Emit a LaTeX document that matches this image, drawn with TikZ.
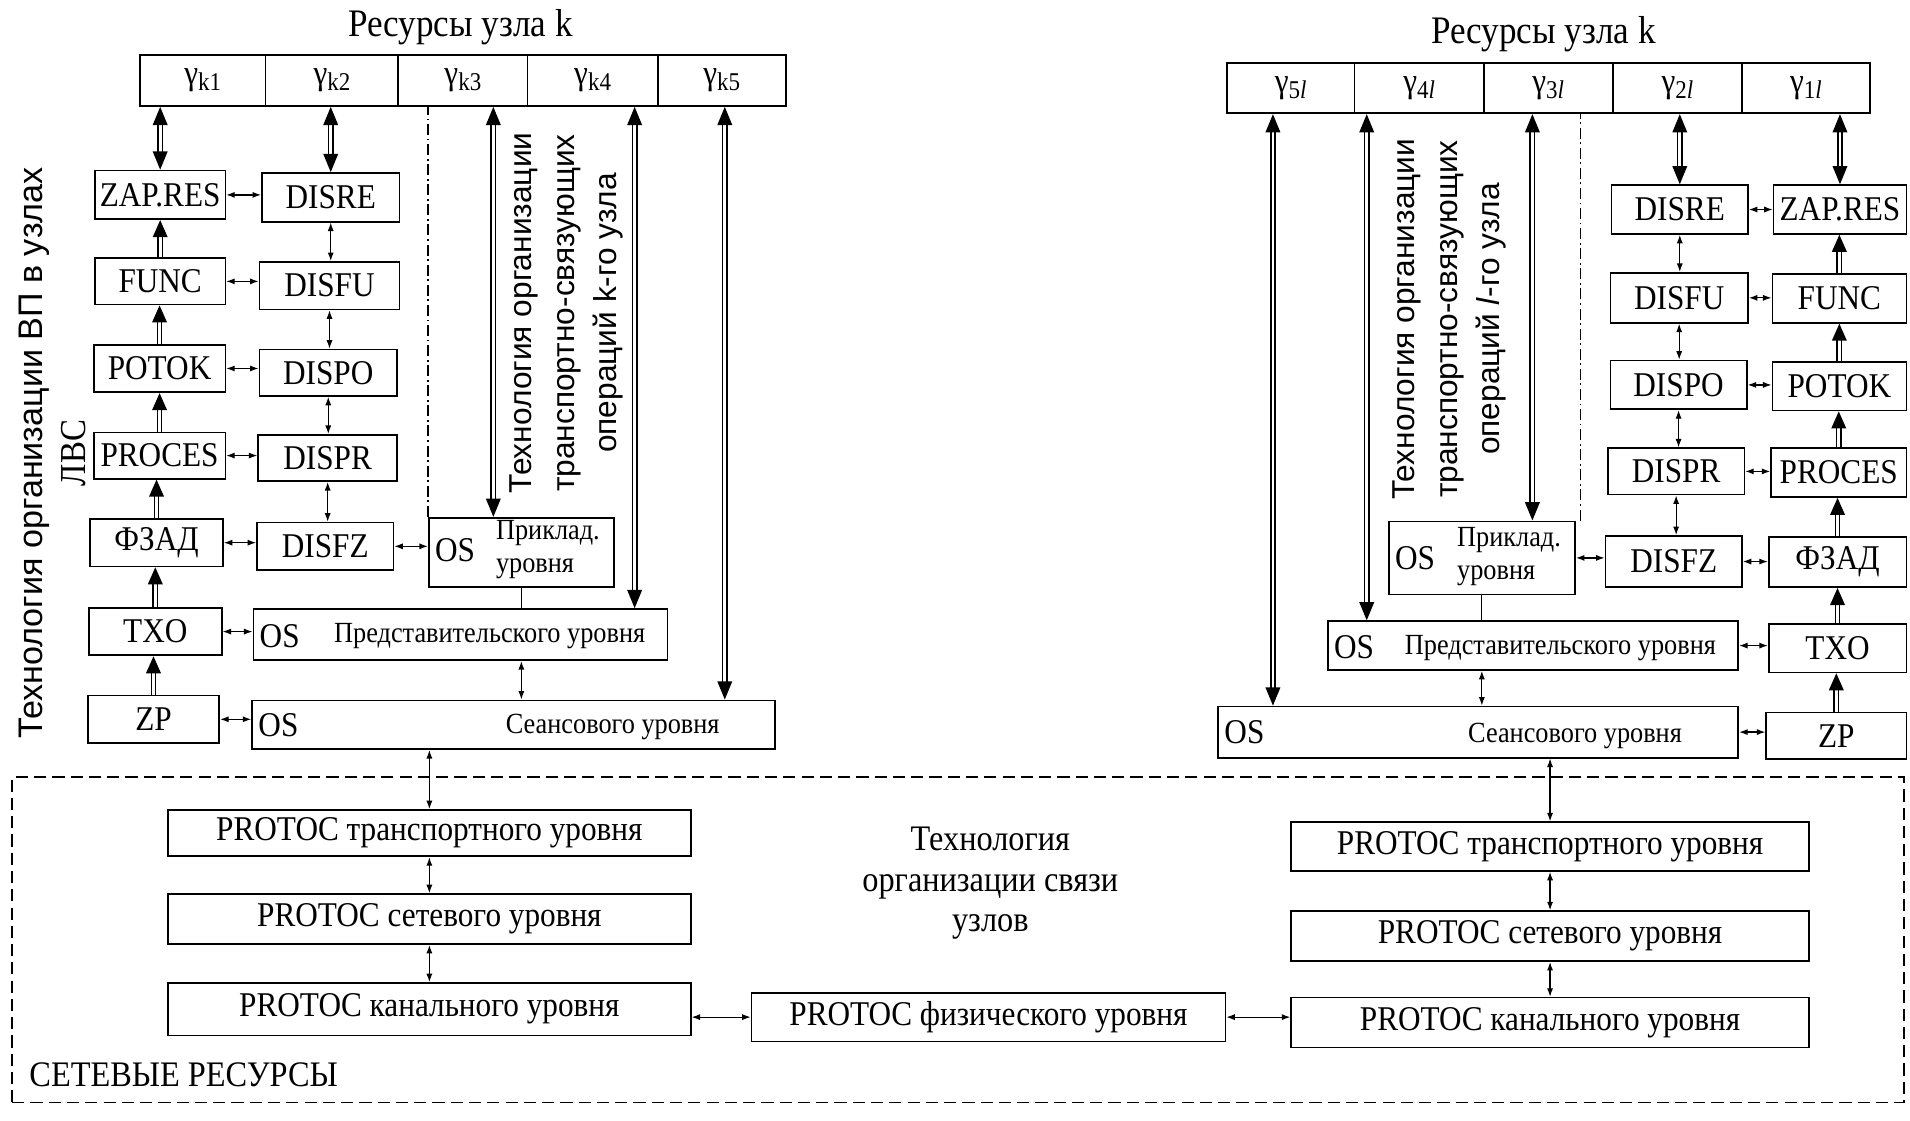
\documentclass[tikz,border=0pt]{standalone}
\usepackage{fontspec}
\setmainfont[FakeStretch=0.9]{Liberation Serif}
\newfontfamily\sansf{Liberation Sans}
\usetikzlibrary{arrows.meta,calc}
\newcommand\mybox[6]{\node[box, minimum width={(#4)-(#2)}, minimum height={(#5)-(#3)}] (#1) at ({((#2)+(#4))/2},{((#3)+(#5))/2}) {#6};}
\newcommand\gsub[1]{γ\raisebox{-0.35ex}{\fontsize{21}{21}\selectfont #1}}
\begin{document}
\begin{tikzpicture}[x=1pt,y=-1pt,
  box/.style={draw, line width=1.4pt, inner sep=0pt, font=\fontsize{28.5}{30}\selectfont},
  small/.style={font=\fontsize{24}{27}\selectfont, inner sep=0pt},
  osl/.style={font=\fontsize{28.5}{30}\selectfont, inner sep=0pt},
  tarr/.style={{Latex[length=7pt,width=5pt]}-{Latex[length=7pt,width=5pt]}, line width=1pt},
  rarr/.style={double, line width=1.3pt, double distance=2.2pt, {Triangle[length=15pt,width=12pt]}-{Triangle[length=15pt,width=12pt]}},
  uarr/.style={double, line width=1.3pt, double distance=2.2pt, -{Triangle[length=14pt,width=12pt]}},
  dashdotline/.style={line width=1pt, dash pattern=on 9pt off 3pt on 1.5pt off 3pt},
  netframe/.style={draw, line width=1.2pt, dash pattern=on 10pt off 5pt, inner sep=0pt}]
\useasboundingbox (0,0) rectangle (1568,920);

% ---------- titles ----------
\node[font=\fontsize{32}{34}\selectfont] (titL) at (378,22) {Ресурсы узла k};
\node[font=\fontsize{32}{34}\selectfont] (titR) at (1267,28) {Ресурсы узла k};

% ---------- resource bars ----------
\mybox{ck1}{115}{45}{218}{87}{\gsub{k1}}
\mybox{ck2}{218}{45}{327}{87}{\gsub{k2}}
\mybox{ck3}{327}{45}{433}{87}{\gsub{k3}}
\mybox{ck4}{433}{45}{540}{87}{\gsub{k4}}
\mybox{ck5}{540}{45}{645}{87}{\gsub{k5}}
\mybox{c5r}{1007}{52}{1112}{93}{\gsub{5\textit{l}}}
\mybox{c4r}{1112}{52}{1218}{93}{\gsub{4\textit{l}}}
\mybox{c3r}{1218}{52}{1324}{93}{\gsub{3\textit{l}}}
\mybox{c2r}{1324}{52}{1430}{93}{\gsub{2\textit{l}}}
\mybox{c1r}{1430}{52}{1535}{93}{\gsub{1\textit{l}}}

% ---------- left node ----------
\mybox{zapL}{78}{140}{185}{180}{ZAP.RES}
\mybox{funcL}{78}{212}{185}{250}{FUNC}
\mybox{potokL}{77}{283}{185}{322}{POTOK}
\mybox{procL}{77}{355}{185}{393}{PROCES}
\mybox{fzadL}{74}{426}{183}{465}{ФЗАД}
\mybox{txoL}{73}{499}{182}{538}{TXO}
\mybox{zpL}{72}{571}{180}{610}{ZP}
\mybox{disreL}{215}{142}{328}{182}{DISRE}
\mybox{disfuL}{213}{215}{328}{254}{DISFU}
\mybox{dispoL}{213}{287}{326}{325}{DISPO}
\mybox{disprL}{212}{357}{326}{395}{DISPR}
\mybox{disfzL}{211}{429}{323}{468}{DISFZ}
\mybox{prikL}{352}{425}{504}{482}{}
\mybox{predL}{208}{500}{548}{542}{}
\mybox{seansL}{207}{575}{636}{615}{}
\node[osl, anchor=west] (prikLos) at (357,452) {OS};
\node[small, anchor=west, align=left] (prikLt) at (407,451) {Приклад.\\уровня};
\node[osl, anchor=west] (predLos) at (213,522) {OS};
\node[small] (predLt) at (402,522) {Представительского уровня};
\node[osl, anchor=west] (seansLos) at (212,595) {OS};
\node[small] (seansLt) at (503,597) {Сеансового уровня};

% ---------- right node ----------
\mybox{zapR}{1456}{152}{1565}{192}{ZAP.RES}
\mybox{funcR}{1455}{225}{1565}{265}{FUNC}
\mybox{potokR}{1455}{297}{1565}{337}{POTOK}
\mybox{procR}{1454}{368}{1565}{408}{PROCES}
\mybox{fzadR}{1452}{441}{1565}{482}{ФЗАД}
\mybox{txoR}{1452}{512}{1565}{552}{TXO}
\mybox{zpR}{1450}{585}{1565}{623}{ZP}
\mybox{disreR}{1323}{152}{1435}{192}{DISRE}
\mybox{disfuR}{1322}{224}{1435}{265}{DISFU}
\mybox{dispoR}{1322}{296}{1434}{336}{DISPO}
\mybox{disprR}{1320}{368}{1432}{406}{DISPR}
\mybox{disfzR}{1318}{440}{1430}{482}{DISFZ}
\mybox{prikR}{1140}{428}{1293}{488}{}
\mybox{predR}{1090}{510}{1427}{550}{}
\mybox{seansR}{1000}{580}{1427}{622}{}
\node[osl, anchor=west] (prikRos) at (1145,458) {OS};
\node[small, anchor=west, align=left] (prikRt) at (1196,457) {Приклад.\\уровня};
\node[osl, anchor=west] (predRos) at (1095,531) {OS};
\node[small] (predRt) at (1281,532) {Представительского уровня};
\node[osl, anchor=west] (seansRos) at (1005,601) {OS};
\node[small] (seansRt) at (1293,604) {Сеансового уровня};

% ---------- rotated texts ----------
\node[rotate=90, align=center, font=\sansf\fontsize{28}{35}\selectfont] (techL) at (43,372)
  {Технология организации ВП в узлах\\{\rmfamily\fontsize{30}{35}\selectfont ЛВС}};
\node[rotate=90, align=center, font=\sansf\fontsize{26}{35}\selectfont] (trL) at (465,257)
  {Технология организации\\транспортно-связующих\\операций k-го узла};
\node[rotate=90, align=center, font=\sansf\fontsize{26}{35}\selectfont] (trR) at (1190,262)
  {Технология организации\\транспортно-связующих\\операций \textit{l}-го узла};

% ---------- dash-dot separators ----------
\draw[dashdotline] (prikL.north west) -- (prikL.north west |- ck3.south);
\draw[dashdotline] ([xshift=4pt]prikR.north east) -- ([xshift=4pt]prikR.north east |- c3r.south);

% ---------- resource arrows left ----------
\draw[rarr] (zapL.north |- ck1.south) -- (zapL.north);
\draw[rarr] (disreL.north |- ck2.south) -- (disreL.north);
\draw[rarr] ([xshift=-23pt]prikL.north |- ck3.south) -- ([xshift=-23pt]prikL.north);
\draw[rarr] ([xshift=34.5pt]ck4.south) -- ([xshift=34.5pt]ck4.south |- predL.north);
\draw[rarr] ([xshift=2.5pt]ck5.south) -- ([xshift=2.5pt]ck5.south |- seansL.north);
% ---------- resource arrows right ----------
\draw[rarr] (zapR.north |- c1r.south) -- (zapR.north);
\draw[rarr] (disreR.north |- c2r.south) -- (disreR.north);
\draw[rarr] ([xshift=-13pt]c3r.south) -- ([xshift=-13pt]c3r.south |- prikR.north);
\draw[rarr] ([xshift=-43pt]c4r.south) -- ([xshift=-43pt]c4r.south |- predR.north);
\draw[rarr] ([xshift=-14.5pt]c5r.south) -- ([xshift=-14.5pt]c5r.south |- seansR.north);

% ---------- upward chains ----------
\draw[uarr] (funcL.north) -- (funcL.north |- zapL.south);
\draw[uarr] (potokL.north) -- (potokL.north |- funcL.south);
\draw[uarr] (procL.north) -- (procL.north |- potokL.south);
\draw[uarr] (fzadL.north) -- (fzadL.north |- procL.south);
\draw[uarr] (txoL.north) -- (txoL.north |- fzadL.south);
\draw[uarr] (zpL.north) -- (zpL.north |- txoL.south);
\draw[uarr] (funcR.north) -- (funcR.north |- zapR.south);
\draw[uarr] (potokR.north) -- (potokR.north |- funcR.south);
\draw[uarr] (procR.north) -- (procR.north |- potokR.south);
\draw[uarr] (fzadR.north) -- (fzadR.north |- procR.south);
\draw[uarr] (txoR.north) -- (txoR.north |- fzadR.south);
\draw[uarr] (zpR.north) -- (zpR.north |- txoR.south);

% ---------- thin arrows left ----------
\draw[tarr] (zapL.east) -- (zapL.east -| disreL.west);
\draw[tarr] (funcL.east) -- (funcL.east -| disfuL.west);
\draw[tarr] (potokL.east) -- (potokL.east -| dispoL.west);
\draw[tarr] (procL.east) -- (procL.east -| disprL.west);
\draw[tarr] (fzadL.east) -- (fzadL.east -| disfzL.west);
\draw[tarr] (disfzL.east) -- (disfzL.east -| prikL.west);
\draw[tarr] (txoL.east) -- (txoL.east -| predL.west);
\draw[tarr] (zpL.east) -- (zpL.east -| seansL.west);
\draw[tarr] (disreL.south) -- (disreL.south |- disfuL.north);
\draw[tarr] (disfuL.south) -- (disfuL.south |- dispoL.north);
\draw[tarr] (dispoL.south) -- (dispoL.south |- disprL.north);
\draw[tarr] (disprL.south) -- (disprL.south |- disfzL.north);
\draw[line width=1pt] (prikL.south) -- (prikL.south |- predL.north);
\draw[tarr] (prikL.south |- predL.south) -- (prikL.south |- seansL.north);
% ---------- thin arrows right ----------
\draw[tarr] (disreR.east) -- (disreR.east -| zapR.west);
\draw[tarr] (disfuR.east) -- (disfuR.east -| funcR.west);
\draw[tarr] (dispoR.east) -- (dispoR.east -| potokR.west);
\draw[tarr] (disprR.east) -- (disprR.east -| procR.west);
\draw[tarr] (disfzR.east) -- (disfzR.east -| fzadR.west);
\draw[tarr] (prikR.east) -- (prikR.east -| disfzR.west);
\draw[tarr] (predR.east) -- (predR.east -| txoR.west);
\draw[tarr] (seansR.east) -- (seansR.east -| zpR.west);
\draw[tarr] (disreR.south) -- (disreR.south |- disfuR.north);
\draw[tarr] (disfuR.south) -- (disfuR.south |- dispoR.north);
\draw[tarr] (dispoR.south) -- (dispoR.south |- disprR.north);
\draw[tarr] (disprR.south) -- (disprR.south |- disfzR.north);
\draw[line width=1pt] (prikR.south) -- (prikR.south |- predR.north);
\draw[tarr] (prikR.south |- predR.south) -- (prikR.south |- seansR.north);

% ---------- network resources ----------
\node[netframe, minimum width=1553, minimum height=267] (net) at (786.5,771.5) {};
\mybox{ptL}{138}{665}{567}{703}{PROTOC транспортного уровня}
\mybox{psL}{138}{734}{567}{775}{PROTOC сетевого уровня}
\mybox{pkL}{138}{807}{567}{850}{PROTOC канального уровня}
\mybox{pf}{617}{815}{1006}{855}{PROTOC физического уровня}
\mybox{ptR}{1060}{675}{1485}{715}{PROTOC транспортного уровня}
\mybox{psR}{1060}{748}{1485}{789}{PROTOC сетевого уровня}
\mybox{pkR}{1060}{819}{1485}{860}{PROTOC канального уровня}
\node[align=center, font=\fontsize{29.5}{33}\selectfont] (tech) at (813,725) {Технология\\организации связи\\узлов};
\node[anchor=west, font=\fontsize{29.5}{30}\selectfont, inner sep=0pt] (netlbl) at (24,882) {СЕТЕВЫЕ РЕСУРСЫ};

\draw[tarr] (ptL.north |- seansL.south) -- (ptL.north);
\draw[tarr] (ptR.north |- seansR.south) -- (ptR.north);
\draw[tarr] (ptL.south) -- (psL.north);
\draw[tarr] (psL.south) -- (pkL.north);
\draw[tarr] (ptR.south) -- (psR.north);
\draw[tarr] (psR.south) -- (pkR.north);
\draw[tarr] (pf.west -| pkL.east) -- (pf.west);
\draw[tarr] (pf.east) -- (pf.east -| pkR.west);
\end{tikzpicture}
\end{document}
